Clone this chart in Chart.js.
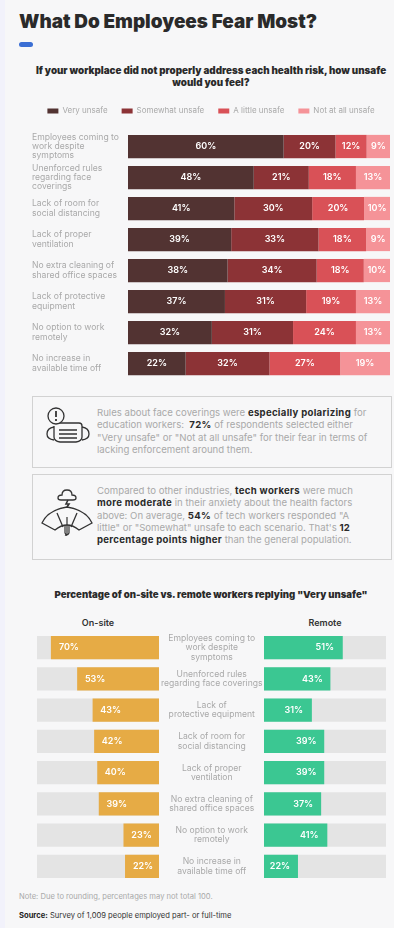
<!DOCTYPE html>
<html>
<head>
<meta charset="utf-8">
<title>What Do Employees Fear Most?</title>
<script src="https://cdn.jsdelivr.net/npm/chart.js@4"></script>
<style>
  html, body { margin: 0; padding: 0; }
  body { width: 394px; height: 928px; position: relative; overflow: hidden; background: #f7f7f8; font-family: Inter, "Open Sans", sans-serif; color: #a9a9a9; }
  #edge { position: absolute; left: 0; top: 0; width: 5px; height: 928px; background: #f2f2fb; }
  .txt { position: absolute; white-space: nowrap; }
  canvas { position: absolute; }
  h1 { position: absolute; left: 19px; top: 9px; margin: 0; font-size: 18.9px; line-height: 26px; font-weight: 900; color: #2a2a2a; white-space: nowrap; }
  #dash { position: absolute; left: 19px; top: 42px; width: 14px; height: 5px; border-radius: 3px; background: #3b6fd4; }
  .sub { left: 0; width: 422px; text-align: center; font-weight: 900; color: #2a2a2a; font-size: 9.8px; line-height: 12px; }
  .box { position: absolute; left: 32px; width: 358px; border: 1px solid #d2d2d2; box-sizing: content-box; }
  .box p { position: absolute; left: 64px; margin: 0; font-size: 9.6px; line-height: 12.3px; white-space: nowrap; }
  .box b { color: #2a2a2a; font-weight: 700; letter-spacing: 0.3px; }
  .box svg { position: absolute; }
  .head { font-size: 9px; font-weight: 600; color: #333; transform: translateX(-50%); }
  .note { left: 19px; font-size: 7.6px; }
  .note b { color: #222; }
</style>
</head>
<body>
<div id="edge"></div>
<h1>What Do Employees Fear Most?</h1>
<div id="dash"></div>
<div class="txt sub" style="top:65px">If your workplace did not properly address each health risk, how unsafe<br>would you feel?</div>

<canvas id="Chart1" width="358" height="291" style="left:32px;top:93px"></canvas>

<div class="box" style="top:396px;height:70px">
  <svg width="44" height="40" viewBox="0 0 44 40" style="left:13px;top:9px" fill="none" stroke="#333" stroke-width="1.3">
    <path d="M10 17 H33 Q36 17 36 20 V31 Q36 35 30 36 H14 Q8 35 8 31 V20"/>
    <path d="M8 21 Q1 22 1 28 Q1 33 8 34 M36 21 Q43 22 43 28 Q43 33 36 34"/>
    <path d="M13 24 H31 M13 28 H31 M13 32 H31"/>
    <circle cx="10" cy="10" r="8" fill="#f7f7f8"/>
    <path d="M10 5 V11 M10 13 V15" stroke-width="1.8"/>
  </svg>
  <p style="top:10px">Rules about face coverings were <b>especially polarizing</b> for<br>education workers: &nbsp;<b>72%</b> of respondents selected either<br>"Very unsafe" or "Not at all unsafe" for their fear in terms of<br>lacking enforcement around them.</p>
</div>

<div class="box" style="top:474px;height:84px">
  <svg width="52" height="50" viewBox="0 0 52 50" style="left:8px;top:11px" fill="none" stroke="#333" stroke-width="1.3">
    <path d="M21 9 Q21 4 26 4 Q31 4 31 9 Q35 9 35 12 Q35 14 32 14 H20 Q17 14 17 12 Q17 9 21 9 Z"/>
    <path d="M27 14 L25 18 H28 L26 21" stroke-width="1.6"/>
    <path d="M1 37 Q7 24 26 21 Q45 24 51 37 L38 44 Q26 34 14 44 Z"/>
    <path d="M16 27 L22 41 M36 27 L30 41"/>
    <path d="M26 31 V48 Q26 50 24 49 M24 39 V47 Q26 51 28 47 V39" stroke-width="1.2"/>
  </svg>
  <p style="top:10px">Compared to other industries, <b>tech workers</b> were much<br><b>more moderate</b> in their anxiety about the health factors<br>above: On average, <b>54%</b> of tech workers responded "A<br>little" or "Somewhat" unsafe to each scenario. That's <b>12</b><br><b>percentage points higher</b> than the general population.</p>
</div>

<div class="txt sub" style="top:589px;font-size:9.6px">Percentage of on-site vs. remote workers replying "Very unsafe"</div>
<div class="txt head" style="left:98px;top:617px">On-site</div>
<div class="txt head" style="left:325px;top:617px">Remote</div>

<canvas id="Chart2" width="227" height="250" style="left:37px;top:632px"></canvas>
<canvas id="Chart3" width="122" height="250" style="left:264px;top:632px"></canvas>

<div class="txt note" style="top:892px">Note: Due to rounding, percentages may not total 100.</div>
<div class="txt note" style="top:911px;color:#333"><b>Source:</b> Survey of 1,009 people employed part- or full-time</div>

<script>
// stacked chart
const riskLabels = [
  ['Employees coming to', 'work despite', 'symptoms'],
  ['Unenforced rules', 'regarding face', 'coverings'],
  ['Lack of room for', 'social distancing'],
  ['Lack of proper', 'ventilation'],
  ['No extra cleaning of', 'shared office spaces'],
  ['Lack of protective', 'equipment'],
  ['No option to work', 'remotely'],
  ['No increase in', 'available time off']
];
const veryUnsafe = [60, 48, 41, 39, 38, 37, 32, 22];
const somewhatUnsafe = [20, 21, 30, 33, 34, 31, 31, 32];
const littleUnsafe = [12, 18, 20, 18, 18, 19, 24, 27];
const notUnsafe = [9, 13, 10, 9, 10, 13, 13, 19];

// on-site vs remote
const compareLabels = [
  ['Employees coming to', 'work despite', 'symptoms'],
  ['Unenforced rules', 'regarding face coverings'],
  ['Lack of', 'protective equipment'],
  ['Lack of room for', 'social distancing'],
  ['Lack of proper', 'ventilation'],
  ['No extra cleaning of', 'shared office spaces'],
  ['No option to work', 'remotely'],
  ['No increase in', 'available time off']
];
const onSite = [70, 53, 43, 42, 40, 39, 23, 22];
const remote = [51, 43, 31, 39, 39, 37, 41, 22];
const trackMax = 79;

const fontName = 'Inter, "Open Sans", sans-serif';
const grey = '#a9a9a9';

// rows do not always add up to 100 because of rounding, the bars still fill the full width
let rowTotal = (i) => veryUnsafe[i] + somewhatUnsafe[i] + littleUnsafe[i] + notUnsafe[i];
let share = (arr) => arr.map((v, i) => v / rowTotal(i) * 100);

let drawText = (ctx, text, x, y) => {
  ctx.save();
  ctx.fillStyle = '#fff';
  ctx.font = '600 9px ' + fontName;
  ctx.textAlign = 'center';
  ctx.textBaseline = 'middle';
  ctx.fillText(text, x, y);
  ctx.restore();
};

const stackLabels = {
  id: 'stackLabels',
  afterDatasetsDraw(chart) {
    let rows = [veryUnsafe, somewhatUnsafe, littleUnsafe, notUnsafe];
    rows.forEach((arr, d) => {
      chart.getDatasetMeta(d).data.forEach((bar, i) => {
        drawText(chart.ctx, arr[i] + '%', (bar.x + bar.base) / 2, bar.y);
      });
    });
  }
};

// extra room between the legend and the first bar
const legendGap = {
  id: 'legendGap',
  beforeInit(chart) {
    let fit = chart.legend.fit;
    chart.legend.fit = function () {
      fit.bind(this)();
      this.height += 6;
    };
  }
};

// labels sit a fixed distance inside the end of the bar
const tipLabels = {
  id: 'tipLabels',
  afterDatasetsDraw(chart) {
    let dir = chart.scales.x.options.reverse ? 1 : -1;
    chart.getDatasetMeta(1).data.forEach((bar, i) => {
      drawText(chart.ctx, chart.data.datasets[1].data[i] + '%', bar.x + dir * 18, bar.y);
    });
  }
};

// keep tall first/last tick labels from squeezing the rows
let fixAxis = (width) => (s) => {
  s.width = width;
  s.paddingTop = 0;
  s.paddingBottom = 0;
};

new Chart(document.getElementById('Chart1').getContext('2d'), {
  type: 'bar',
  data: {
    labels: riskLabels,
    datasets: [
      { label: 'Very unsafe', data: share(veryUnsafe), backgroundColor: '#523332' },
      { label: 'Somewhat unsafe', data: share(somewhatUnsafe), backgroundColor: '#8c3336' },
      { label: 'A little unsafe', data: share(littleUnsafe), backgroundColor: '#d95157' },
      { label: 'Not at all unsafe', data: share(notUnsafe), backgroundColor: '#f59398' }
    ]
  },
  plugins: [stackLabels, legendGap],
  options: {
    indexAxis: 'y',
    responsive: false,
    animation: false,
    barPercentage: 0.75,
    categoryPercentage: 1,
    layout: { padding: { top: 0, bottom: 5 } },
    plugins: {
      tooltip: { enabled: false },
      legend: {
        display: true,
        position: 'top',
        labels: { boxWidth: 11, boxHeight: 5, padding: 14, color: grey, font: { family: fontName, size: 8 } }
      }
    },
    scales: {
      x: { stacked: true, min: 0, max: 100, display: false },
      y: {
        stacked: true,
        grid: { display: false, drawTicks: false },
        border: { display: false },
        afterFit: fixAxis(96),
        ticks: { autoSkip: false, crossAlign: 'far', color: grey, padding: 0, font: { family: fontName, size: 8.6, lineHeight: 1.08 } }
      }
    }
  }
});

let compareChart = (id, values, color, reverse, showLabels) => new Chart(document.getElementById(id).getContext('2d'), {
  type: 'bar',
  data: {
    labels: compareLabels,
    datasets: [
      { data: compareLabels.map(() => trackMax), backgroundColor: '#e4e4e4', grouped: false, order: 2 },
      { data: values, backgroundColor: color, grouped: false, order: 1 }
    ]
  },
  plugins: [tipLabels],
  options: {
    indexAxis: 'y',
    responsive: false,
    animation: false,
    barPercentage: 0.75,
    categoryPercentage: 1,
    layout: { padding: 0 },
    plugins: { legend: { display: false }, tooltip: { enabled: false } },
    scales: {
      x: { min: 0, max: trackMax, reverse: reverse, display: false },
      y: {
        display: showLabels,
        position: 'right',
        grid: { display: false, drawTicks: false },
        border: { display: false },
        afterFit: fixAxis(showLabels ? 105 : 0),
        ticks: { autoSkip: false, crossAlign: 'center', color: grey, padding: 2, font: { family: fontName, size: 8.6, lineHeight: 1.08 } }
      }
    }
  }
});

compareChart('Chart2', onSite, '#e6ab45', true, true);
compareChart('Chart3', remote, '#3bc792', false, false);
</script>
</body>
</html>
